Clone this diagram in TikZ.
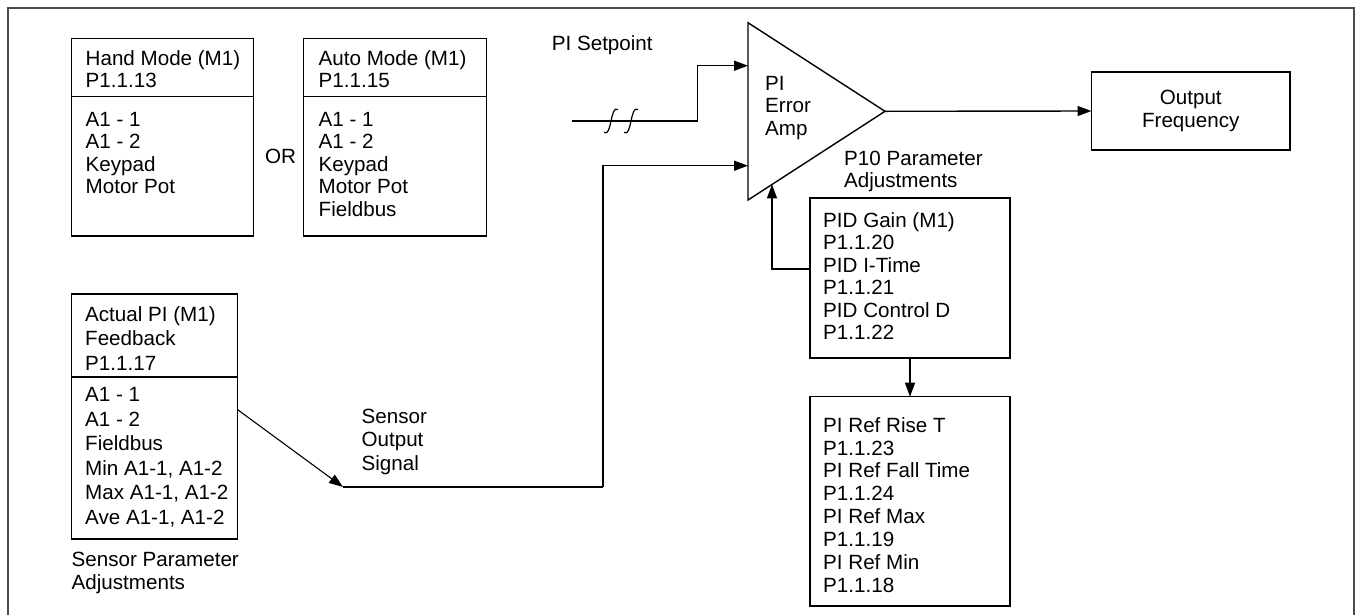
\documentclass[tikz,border=0pt]{standalone}
\usepackage{fontspec}
\setmainfont{Liberation Sans}
\usetikzlibrary{arrows.meta}
\newcommand\dfont[1]{\fontsize{20.6}{#1}\selectfont}
\begin{document}
\begin{tikzpicture}[x=1pt,y=-1pt,
  box/.style={draw, line width=1.4pt, inner sep=0pt, outer sep=0pt, anchor=north west},
  blk/.style={font=\dfont{22.5}, align=left, inner sep=0pt, anchor=north west},
  lbl/.style={font=\dfont{22.5}, inner sep=0pt, anchor=base west},
  ln/.style={line width=1.4pt},
  arr/.style={line width=1.4pt, -{Triangle[length=14pt,width=10pt]}},
  frame/.style={draw=black!70, line width=1.8pt}]
\useasboundingbox (0,0) rectangle (1361,614);
% outer frame (bottom edge lies below the picture)
\draw[frame] (8,630) -- (8,8) -- (1354,8) -- (1354,630);

% mode boxes
\node[box, minimum width=182pt, minimum height=197.5pt] (hand) at (71.5,38.3) {};
\draw[ln] (hand.west |- 0,96.7) -- (hand.east |- 0,96.7);
\node[blk] (handT) at (85.5,49) {\rule{0pt}{16pt}Hand Mode (M1)\\P1.1.13};
\node[blk] (handL) at (85.5,110) {\rule{0pt}{16pt}A1 - 1\\A1 - 2\\Keypad\\Motor Pot};

\node[lbl] (or) at (265,163) {OR};

\node[box, minimum width=183pt, minimum height=197.5pt] (auto) at (303.5,38.3) {};
\draw[ln] (auto.west |- 0,96.7) -- (auto.east |- 0,96.7);
\node[blk] (autoT) at (318.5,49) {\rule{0pt}{16pt}Auto Mode (M1)\\P1.1.15};
\node[blk] (autoL) at (318.5,110) {\rule{0pt}{16pt}A1 - 1\\A1 - 2\\Keypad\\Motor Pot\\Fieldbus};

% actual PI feedback box
\node[box, minimum width=166pt, minimum height=245pt] (act) at (71.5,294) {};
\draw[ln] (act.west |- 0,377) -- (act.east |- 0,377);
\node[blk, font=\dfont{24.5}] (actT) at (85,305) {\rule{0pt}{16pt}Actual PI (M1)\\Feedback\\P1.1.17};
\node[blk, font=\dfont{24.5}] (actL) at (85,385.5) {\rule{0pt}{16pt}A1 - 1\\A1 - 2\\Fieldbus\\Min A1-1, A1-2\\Max A1-1, A1-2\\Ave A1-1, A1-2};
\node[blk, font=\dfont{23}] (sensP) at (71.5,550) {\rule{0pt}{16pt}Sensor Parameter\\Adjustments};

\node[blk, font=\dfont{23.7}] (sensO) at (361.4,407) {\rule{0pt}{16pt}Sensor\\Output\\Signal};

% PI error amplifier
\coordinate (triTop) at (748,22.7);
\coordinate (triBot) at (748,200);
\coordinate (apex) at (885,111.3);
\draw[ln, line join=miter] (triTop) -- (apex) -- (triBot) -- cycle;
\node[blk] (triT) at (765,74) {\rule{0pt}{16pt}PI\\Error\\Amp};
\coordinate (in1) at (748,65.7);
\coordinate (in2) at (748,165.7);
\coordinate (in3) at (772,184.4);

% setpoint
\node[lbl] (spLbl) at (551.7,50) {PI Setpoint};
\coordinate (spStart) at (571.7,121);
\coordinate (spBend) at (697.7,121);
\draw[arr] (spStart) -- (spBend) |- (in1);
\foreach \bx in {611,631}{
  \draw[line width=1.2pt] (\bx-7,132.5) .. controls (\bx-3,135) and (\bx-1.5,128) .. (\bx,121)
        .. controls (\bx+1.5,114) and (\bx+3,107) .. (\bx+7,109.5);
}

% sensor signal path
\coordinate (actOut) at (237.5,409.6);
\coordinate (sensPt) at (343,487);
\coordinate (fbCorner) at (603,487);
\draw[arr, line width=1.1pt] (actOut) -- (sensPt);
\draw[ln] (sensPt) -- (fbCorner);
\draw[arr] (fbCorner) |- (in2);

% output
\node[box, minimum width=198.5pt, minimum height=78pt, align=center, font=\dfont{22.5}] (out) at (1091.5,72) {Output\\Frequency};
\draw[arr] (apex) -- (out.west);

% P10 parameters
\node[blk, font=\dfont{22}] (p10) at (844,149) {\rule{0pt}{16pt}P10 Parameter\\Adjustments};
\node[box, minimum width=200pt, minimum height=160pt] (pid) at (810,198) {};
\node[blk] (pidT) at (823,211) {\rule{0pt}{16pt}PID Gain (M1)\\P1.1.20\\PID I-Time\\P1.1.21\\PID Control D\\P1.1.22};
\coordinate (pidFb) at (810,269);
\draw[arr] (pidFb) -| (in3);

\node[box, minimum width=200pt, minimum height=209.3pt] (ref) at (810,396.7) {};
\node[blk, font=\dfont{22.86}] (refT) at (823,416) {\rule{0pt}{16pt}PI Ref Rise T\\P1.1.23\\PI Ref Fall Time\\P1.1.24\\PI Ref Max\\P1.1.19\\PI Ref Min\\P1.1.18};
\draw[arr] (pid.south) -- (ref.north);
\end{tikzpicture}
\end{document}
